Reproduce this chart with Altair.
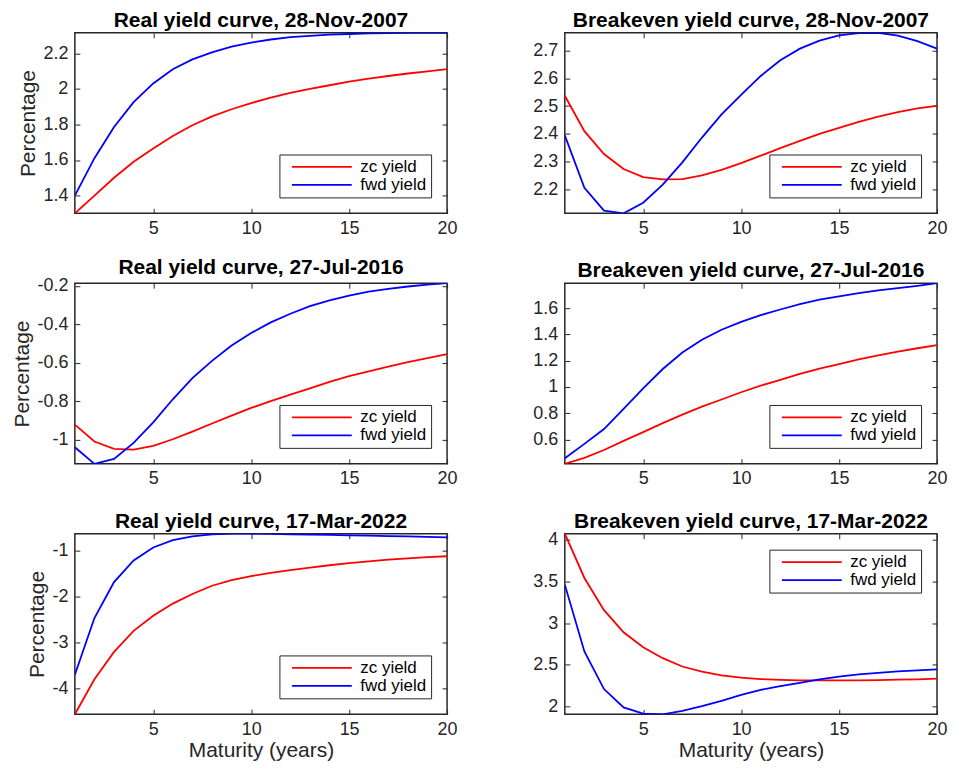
import altair as alt
import pandas as pd

maturity = list(range(1, 21))
series_names = ["zc yield", "fwd yield"]
series_colors = ["#ff0000", "#0000ff"]
x_ticks = [5, 10, 15, 20]

# Real yield curve, 28-Nov-2007
real_2007_zc = [1.30, 1.40, 1.50, 1.59, 1.665, 1.735, 1.795, 1.845, 1.885, 1.92,
                1.95, 1.977, 2.0, 2.02, 2.04, 2.057, 2.072, 2.086, 2.098, 2.11]
real_2007_fwd = [1.40, 1.61, 1.785, 1.925, 2.03, 2.11, 2.165, 2.205, 2.237, 2.26,
                 2.277, 2.29, 2.298, 2.304, 2.308, 2.311, 2.313, 2.314, 2.315, 2.315]
real_2007_ticks = [1.4, 1.6, 1.8, 2, 2.2]

# Breakeven yield curve, 28-Nov-2007
be_2007_zc = [2.537, 2.41, 2.328, 2.274, 2.245, 2.237, 2.238, 2.251, 2.271, 2.295,
              2.322, 2.349, 2.375, 2.40, 2.422, 2.443, 2.462, 2.478, 2.492, 2.501]
be_2007_fwd = [2.395, 2.207, 2.125, 2.115, 2.153, 2.218, 2.298, 2.387, 2.47, 2.54,
               2.608, 2.664, 2.706, 2.735, 2.754, 2.762, 2.763, 2.753, 2.733, 2.706]
be_2007_ticks = [2.2, 2.3, 2.4, 2.5, 2.6, 2.7]

# Real yield curve, 27-Jul-2016
real_2016_zc = [-0.922, -1.010, -1.048, -1.052, -1.033, -0.998, -0.958, -0.916, -0.875, -0.835,
                -0.80, -0.766, -0.733, -0.70, -0.67, -0.645, -0.62, -0.597, -0.576, -0.555]
real_2016_fwd = [-1.04, -1.126, -1.10, -1.017, -0.91, -0.79, -0.68, -0.59, -0.51, -0.445,
                 -0.39, -0.345, -0.305, -0.275, -0.25, -0.23, -0.215, -0.203, -0.193, -0.186]
real_2016_ticks = [-1, -0.8, -0.6, -0.4, -0.2]

# Breakeven yield curve, 27-Jul-2016
be_2016_zc = [0.415, 0.46, 0.52, 0.59, 0.656, 0.725, 0.79, 0.85, 0.905, 0.96,
              1.01, 1.055, 1.10, 1.14, 1.175, 1.21, 1.24, 1.27, 1.295, 1.319]
be_2016_fwd = [0.458, 0.567, 0.68, 0.833, 0.99, 1.137, 1.263, 1.36, 1.436, 1.496,
               1.547, 1.59, 1.63, 1.665, 1.69, 1.715, 1.735, 1.753, 1.77, 1.79]
be_2016_ticks = [0.6, 0.8, 1, 1.2, 1.4, 1.6]

# Real yield curve, 17-Mar-2022
real_2022_zc = [-4.56, -3.80, -3.205, -2.75, -2.42, -2.157, -1.95, -1.77, -1.65, -1.56,
                -1.49, -1.43, -1.375, -1.325, -1.28, -1.24, -1.205, -1.175, -1.15, -1.13]
real_2022_fwd = [-3.70, -2.47, -1.69, -1.22, -0.94, -0.78, -0.70, -0.655, -0.64, -0.64,
                 -0.645, -0.652, -0.66, -0.668, -0.676, -0.684, -0.692, -0.70, -0.71, -0.72]
real_2022_ticks = [-4, -3, -2, -1]

# Breakeven yield curve, 17-Mar-2022
be_2022_zc = [4.07, 3.54, 3.155, 2.89, 2.71, 2.58, 2.48, 2.42, 2.375, 2.347,
              2.33, 2.32, 2.315, 2.313, 2.313, 2.315, 2.318, 2.322, 2.327, 2.335]
be_2022_fwd = [3.46, 2.66, 2.21, 1.99, 1.916, 1.908, 1.95, 2.005, 2.07, 2.14,
               2.2, 2.245, 2.285, 2.325, 2.36, 2.385, 2.405, 2.422, 2.435, 2.445]
be_2022_ticks = [2, 2.5, 3, 3.5, 4]

FONT = "Liberation Sans"
AX = "#262626"
TICK = 5


def axis_common(**kw):
    base = dict(domain=False, grid=False, ticks=True, tickSize=TICK, offset=-TICK,
                tickColor=AX, tickWidth=1, labelColor=AX, labelFont=FONT, labelFontSize=18,
                labelFlush=False, labelOverlap=False, titleFont=FONT, titleFontSize=21,
                titleFontWeight="normal", titleColor=AX, minExtent=0)
    base.update(kw)
    return alt.Axis(**base)


def panel(title, zc, fwd, yticks, ytitle, xtitle, legend_orient):
    df = pd.DataFrame({
        "Maturity": maturity + maturity,
        "Value": zc + fwd,
        "Series": [series_names[0]] * len(zc) + [series_names[1]] * len(fwd),
    })
    lo, hi = min(zc + fwd), max(zc + fwd)
    xscale = alt.Scale(domain=[1, 20], nice=False, zero=False)
    yscale = alt.Scale(domain=[lo, hi], nice=False, zero=False)
    lbl = "datum.value + ''"
    lines = alt.Chart(df).mark_line(strokeWidth=1.8, clip=True).encode(
        x=alt.X("Maturity:Q", scale=xscale,
                axis=axis_common(orient="bottom", values=x_ticks, title=xtitle,
                                 labelPadding=6, titlePadding=1, labelExpr=lbl)),
        y=alt.Y("Value:Q", scale=yscale,
                axis=axis_common(orient="left", values=yticks, title=ytitle,
                                 labelPadding=7, titlePadding=4, labelExpr=lbl)),
        color=alt.Color("Series:N",
                        scale=alt.Scale(domain=series_names, range=series_colors),
                        legend=alt.Legend(orient=legend_orient, offset=16, title=None,
                                          fillColor="white", strokeColor=AX, padding=4,
                                          symbolType="M0,0H12", symbolSize=100,
                                          symbolStrokeWidth=1.8, labelFont=FONT,
                                          labelFontSize=17, labelColor="black",
                                          labelOffset=60, rowPadding=0)),
    )
    frame = alt.Chart(df).mark_point(opacity=0).encode(
        x=alt.X("Maturity:Q", scale=xscale,
                axis=axis_common(orient="top", values=x_ticks, labels=False, title=None)),
        y=alt.Y("Value:Q", scale=yscale,
                axis=axis_common(orient="right", values=yticks, labels=False, title=None)),
    )
    return alt.layer(lines, frame).resolve_axis(x="independent", y="independent").properties(
        width=373, height=181,
        title=alt.Title(title, font=FONT, fontSize=21, fontWeight="bold", color="black",
                        anchor="middle", frame="group", offset=-1),
    )


panels = [
    panel("Real yield curve, 28-Nov-2007", real_2007_zc, real_2007_fwd, real_2007_ticks,
          "Percentage", None, "bottom-right"),
    panel("Breakeven yield curve, 28-Nov-2007", be_2007_zc, be_2007_fwd, be_2007_ticks,
          None, None, "bottom-right"),
    panel("Real yield curve, 27-Jul-2016", real_2016_zc, real_2016_fwd, real_2016_ticks,
          "Percentage", None, "bottom-right"),
    panel("Breakeven yield curve, 27-Jul-2016", be_2016_zc, be_2016_fwd, be_2016_ticks,
          None, None, "bottom-right"),
    panel("Real yield curve, 17-Mar-2022", real_2022_zc, real_2022_fwd, real_2022_ticks,
          "Percentage", "Maturity (years)", "bottom-right"),
    panel("Breakeven yield curve, 17-Mar-2022", be_2022_zc, be_2022_fwd, be_2022_ticks,
          None, "Maturity (years)", "top-right"),
]

chart = alt.concat(
    *panels, columns=2, spacing={"row": 70, "column": 118}, bounds="flush"
).resolve_scale(
    color="independent", x="independent", y="independent"
).resolve_legend(color="independent").properties(
    padding={"left": 3, "top": 0, "right": 0, "bottom": 2},
    background="white",
).configure_view(stroke=AX, strokeWidth=1.5)

chart.save("out.html", embed_options={"renderer": "svg", "actions": False})
